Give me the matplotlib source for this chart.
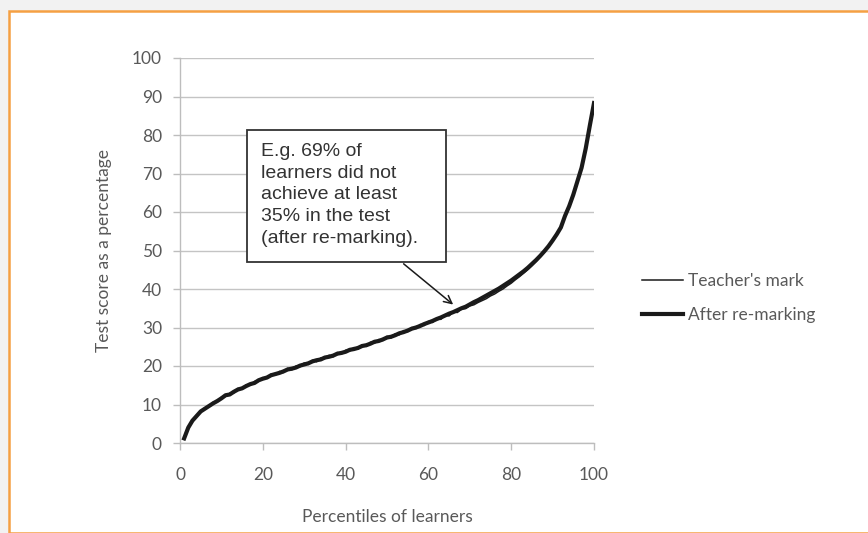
import matplotlib.pyplot as plt
from matplotlib.patches import Rectangle
import numpy as np

# percentiles of learners (x) and test scores (%)
percentiles = np.arange(1, 101)

teacher_mark = [
    1.5, 4.3, 5.5, 7.2, 8.0, 9.1, 9.4, 10.6, 10.7, 11.9,
    12.1, 12.9, 13.0, 14.2, 14.0, 15.1, 15.0, 16.0, 16.0, 17.0,
    16.8, 17.9, 17.6, 18.6, 18.3, 19.4, 19.0, 20.0, 19.8, 20.8,
    20.4, 21.5, 21.1, 22.1, 21.9, 22.8, 22.4, 23.5, 23.1, 24.1,
    23.9, 24.8, 24.4, 25.5, 25.1, 26.2, 25.9, 26.9, 26.6, 27.7,
    27.3, 28.4, 28.1, 29.2, 28.9, 30.0, 29.7, 30.8, 30.5, 31.6,
    31.3, 32.4, 32.1, 33.2, 33.0, 34.0, 33.9, 34.8, 34.9, 35.6,
    35.9, 36.5, 37.0, 37.5, 38.2, 38.7, 39.4, 40.0, 40.8, 41.5,
    42.4, 43.2, 44.1, 45.0, 46.0, 47.1, 48.3, 49.6, 51.0, 52.6,
    54.3, 56.2, 58.8, 61.2, 64.2, 67.6, 71.6, 76.8, 82.2, 87.6,
]

after_remarking = [
    1.2, 4.0, 5.8, 7.0, 8.2, 8.9, 9.6, 10.3, 10.9, 11.6,
    12.4, 12.6, 13.3, 13.9, 14.2, 14.8, 15.3, 15.6, 16.3, 16.7,
    17.0, 17.6, 17.9, 18.2, 18.6, 19.1, 19.3, 19.6, 20.1, 20.4,
    20.7, 21.2, 21.5, 21.7, 22.2, 22.4, 22.7, 23.2, 23.4, 23.7,
    24.2, 24.4, 24.7, 25.2, 25.4, 25.8, 26.3, 26.5, 26.9, 27.4,
    27.6, 28.0, 28.5, 28.8, 29.2, 29.7, 30.0, 30.4, 30.9, 31.3,
    31.7, 32.2, 32.6, 33.1, 33.6, 34.0, 34.5, 35.0, 35.4, 36.0,
    36.6, 37.1, 37.7, 38.3, 38.9, 39.5, 40.1, 40.8, 41.5, 42.2,
    43.0, 43.8, 44.6, 45.5, 46.5, 47.5, 48.6, 49.8, 51.1, 52.6,
    54.2, 56.0, 59.0, 61.5, 64.5, 68.0, 71.5, 76.5, 82.5, 88.3,
]

note = ("E.g. 69% of\nlearners did not\nachieve at least\n"
        "35% in the test\n(after re-marking).")

W, H = 868, 533
fig = plt.figure(figsize=(W / 100, H / 100), dpi=100)
fig.patch.set_facecolor('#f2f2f2')

# white panel with orange border
fig.add_artist(Rectangle((9 / W, 0), 1.0, 1 - 11 / H, transform=fig.transFigure,
                         facecolor='white', edgecolor='#f5a043', linewidth=1.8,
                         zorder=0))

ax = fig.add_axes([180 / W, 1 - 443 / H, (594 - 180) / W, (443 - 58) / H])
ax.set_facecolor('none')

ax.plot(percentiles, after_remarking, color='#1a1a1a', linewidth=3.0,
        label='After re-marking', zorder=3)
ax.plot(percentiles, teacher_mark, color='#1a1a1a', linewidth=1.1,
        label="Teacher's mark", zorder=4)

ax.set_xlim(0, 100)
ax.set_ylim(0, 100)
ax.set_xticks(range(0, 101, 20))
ax.set_yticks(range(0, 101, 10))
ax.yaxis.grid(True, color='#c4c4c4', linewidth=1.0)
ax.set_axisbelow(True)

for s in ['top', 'right']:
    ax.spines[s].set_visible(False)
for s in ['left', 'bottom']:
    ax.spines[s].set_color('#bdbdbd')
    ax.spines[s].set_linewidth(1.0)

fsize = 12.5
tick_font = dict(family='Lato', size=fsize)
ax.tick_params(axis='both', colors='#bdbdbd', labelcolor='#595959',
               length=5, width=1.0, direction='out')
ax.tick_params(axis='y', pad=8)
ax.tick_params(axis='x', pad=12)
for lab in ax.get_xticklabels() + ax.get_yticklabels():
    lab.set_fontfamily('Lato')
    lab.set_fontsize(fsize)

ax.set_xlabel('Percentiles of learners', fontdict=tick_font, color='#595959',
              labelpad=19)
ax.set_ylabel('Test score as a percentage', fontdict=tick_font, color='#595959',
              labelpad=14)

# callout box with arrow
ax.annotate('', xy=(66.5, 35.5), xytext=(53.5, 47.0),
            arrowprops=dict(arrowstyle='->', color='#1a1a1a', lw=1.1,
                            mutation_scale=14), zorder=6)
ax.add_patch(Rectangle((16.2, 47.0), 48.1, 34.3, facecolor='white',
                       edgecolor='#333333', linewidth=1.3, zorder=5))
ax.text(19.6, 78.0, note, family='Liberation Sans', fontsize=14,
        color='#333333', va='top', ha='left', linespacing=1.37, zorder=7)

handles, labels = ax.get_legend_handles_labels()
leg = ax.legend(handles[::-1], labels[::-1], loc='center left',
                bbox_to_anchor=(626 / W, 1 - 298 / H),
                bbox_transform=fig.transFigure, frameon=False,
                handlelength=2.4, handletextpad=0.25, labelspacing=1.0,
                prop=dict(family='Lato', size=fsize))
for t in leg.get_texts():
    t.set_color('#595959')

fig.savefig('out.png', dpi=100, facecolor=fig.get_facecolor())
